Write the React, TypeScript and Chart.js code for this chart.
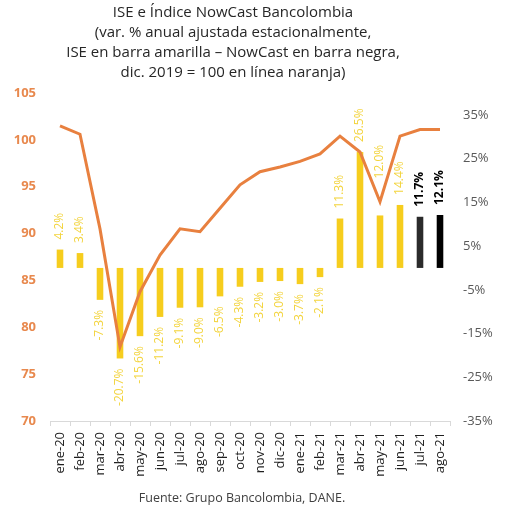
import React, { useEffect, useRef } from "react";
import { Chart, registerables } from "chart.js";

Chart.register(...registerables);

const months = [
  "ene-20", "feb-20", "mar-20", "abr-20", "may-20", "jun-20", "jul-20", "ago-20",
  "sep-20", "oct-20", "nov-20", "dic-20", "ene-21", "feb-21", "mar-21", "abr-21",
  "may-21", "jun-21", "jul-21", "ago-21",
];

// ISE index, dic. 2019 = 100 (orange line, left axis)
const iseIndex = [
  101.5, 100.6, 90.5, 77.9, 83.8, 87.7, 90.5, 90.2, 92.7, 95.2, 96.6, 97.1,
  97.7, 98.5, 100.4, 98.7, 93.4, 100.4, 101.1, 101.1,
];

// Annual % variation (bars, right axis)
const annualVar = [
  4.2, 3.4, -7.3, -20.7, -15.6, -11.2, -9.1, -9.0, -6.5, -4.3, -3.2, -3.0,
  -3.7, -2.1, 11.3, 26.5, 12.0, 14.4, 11.7, 12.1,
];

// Months that come from NowCast (black bars)
const nowcastMonths = ["jul-21", "ago-21"];

const leftTicks = [70, 75, 80, 85, 90, 95, 100, 105];
const rightTicks = [-35, -25, -15, -5, 5, 15, 25, 35];

const titleLines = [
  "ISE e Índice NowCast Bancolombia",
  "(var. % anual ajustada estacionalmente,",
  "ISE en barra amarilla – NowCast en barra negra,",
  "dic. 2019 = 100 en línea naranja)",
];
const footer = "Fuente: Grupo Bancolombia, DANE.";

const FONT = '"Open Sans", "Noto Sans", sans-serif';
const YELLOW = "#F6CD1E";
const YELLOW_TXT = "#F3D43E";
const ORANGE = "#E8803F";

// label lifted above the line where it would collide
const liftedLabel = "may-21";

export default function App() {
  const ref = useRef<HTMLCanvasElement | null>(null);

  useEffect(() => {
    if (!ref.current) return;
    const barColors = months.map((m, i) =>
      nowcastMonths.includes(m) ? (i === months.length - 1 ? "#000000" : "#2B2B2B") : YELLOW
    );

    const textPlugin = {
      id: "texts",
      afterDatasetsDraw(chart: any) {
        const ctx = chart.ctx;
        const meta = chart.getDatasetMeta(1);
        meta.data.forEach((el: any, i: number) => {
          const v = annualVar[i];
          const isNow = nowcastMonths.includes(months[i]);
          const gap = months[i] === liftedLabel ? 37 : 10;
          ctx.save();
          ctx.translate(el.x, v >= 0 ? el.y - gap : el.y + gap);
          ctx.rotate(-Math.PI / 2);
          ctx.textAlign = v >= 0 ? "left" : "right";
          ctx.textBaseline = "middle";
          ctx.fillStyle = isNow ? "#000000" : YELLOW_TXT;
          ctx.font = (isNow ? "bold " : "") + "12px " + FONT;
          ctx.fillText(v.toFixed(1) + "%", 0, 0);
          ctx.restore();
        });
      },
      afterDraw(chart: any) {
        const ctx = chart.ctx;
        ctx.save();
        ctx.textAlign = "center";
        ctx.textBaseline = "middle";
        ctx.fillStyle = "#262626";
        ctx.font = "15px " + FONT;
        titleLines.forEach((t, i) => ctx.fillText(t, 233, 13 + i * 20));
        ctx.fillStyle = "#404040";
        ctx.font = "12.5px " + FONT;
        ctx.fillText(footer, 242, 498);
        ctx.restore();
      },
    };

    const chart = new Chart(ref.current, {
      type: "bar",
      data: {
        labels: months,
        datasets: [
          {
            type: "line",
            label: "ISE índice",
            data: iseIndex,
            yAxisID: "y",
            borderColor: ORANGE,
            borderWidth: 3,
            pointRadius: 0,
            tension: 0,
            fill: false,
            order: 0,
          } as any,
          {
            type: "bar",
            label: "Var. anual",
            data: annualVar,
            yAxisID: "y1",
            backgroundColor: barColors,
            categoryPercentage: 1,
            barPercentage: 0.33,
            order: 1,
          },
        ],
      },
      options: {
        responsive: false,
        animation: false,
        devicePixelRatio: 1,
        layout: { padding: { top: 93, bottom: 45, left: 0, right: 0 } },
        plugins: {
          legend: { display: false },
          title: { display: false },
          tooltip: { enabled: false },
        },
        scales: {
          x: {
            offset: true,
            grid: {
              offset: true,
              drawOnChartArea: false,
              drawTicks: true,
              tickLength: 5,
              color: "#D9D9D9",
            },
            border: { color: "#D9D9D9", width: 1 },
            ticks: {
              minRotation: 90,
              maxRotation: 90,
              autoSkip: false,
              padding: 6,
              color: "#1F1F1F",
              font: { family: FONT, size: 13 },
            },
            afterFit(scale: any) {
              scale.height = 60;
            },
          },
          y: {
            position: "left",
            min: 70,
            max: 105,
            grid: { display: false, drawTicks: false },
            border: { display: false },
            afterBuildTicks(axis: any) {
              axis.ticks = leftTicks.map((v) => ({ value: v }));
            },
            ticks: {
              padding: 14,
              color: "#E8894E",
              font: { family: FONT, size: 13, weight: "bold" },
            },
            afterFit(scale: any) {
              scale.width = 50;
            },
          },
          y1: {
            position: "right",
            min: -35,
            max: 40,
            grid: { display: false, drawTicks: false },
            border: { display: false },
            afterBuildTicks(axis: any) {
              axis.ticks = rightTicks.map((v) => ({ value: v }));
            },
            ticks: {
              padding: 13,
              color: "#595959",
              font: { family: FONT, size: 13 },
              callback: (v: any) => v + "%",
            },
            afterFit(scale: any) {
              scale.width = 74;
            },
          },
        },
      },
      plugins: [textPlugin],
    } as any);

    return () => chart.destroy();
  }, []);

  return (
    <div style={{ position: "absolute", left: 0, top: 0, width: 524, height: 526, background: "#fff" }}>
      <canvas ref={ref} width={524} height={526} style={{ width: 524, height: 526, display: "block" }} />
    </div>
  );
}
